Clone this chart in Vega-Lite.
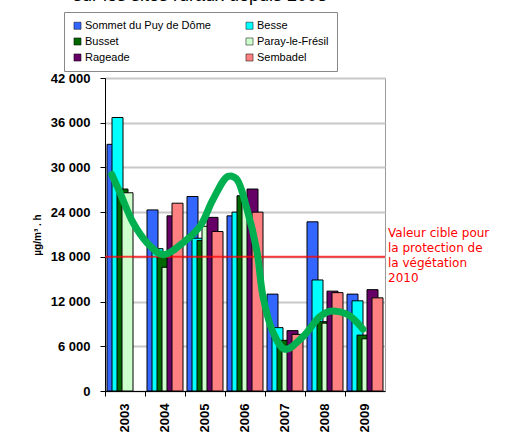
{
  "$schema": "https://vega.github.io/schema/vega-lite/v6.json",
  "autosize": "none",
  "width": 280,
  "height": 313,
  "padding": {"left": 105, "top": 78, "right": 121, "bottom": 43},
  "title": {"text": "sur les sites ruraux depuis 2003", "anchor": "start", "frame": "group", "dx": -32, "fontSize": 18, "font": "Liberation Sans", "fontWeight": "normal", "color": "#000", "offset": 7},
  "config": {
    "font": "Liberation Sans",
    "view": {"stroke": "#9a9a9a", "strokeWidth": 1}
  },
  "datasets": {
    "bars": [
      {"year": "2003", "site": "Sommet du Puy de Dôme", "v": 33100},
      {"year": "2003", "site": "Besse", "v": 36700},
      {"year": "2003", "site": "Busset", "v": 27100},
      {"year": "2003", "site": "Paray-le-Frésil", "v": 26600},
      {"year": "2004", "site": "Sommet du Puy de Dôme", "v": 24300},
      {"year": "2004", "site": "Besse", "v": 19100},
      {"year": "2004", "site": "Busset", "v": 18000},
      {"year": "2004", "site": "Paray-le-Frésil", "v": 16600},
      {"year": "2004", "site": "Rageade", "v": 23500},
      {"year": "2004", "site": "Sembadel", "v": 25200},
      {"year": "2005", "site": "Sommet du Puy de Dôme", "v": 26100},
      {"year": "2005", "site": "Besse", "v": 20500},
      {"year": "2005", "site": "Busset", "v": 20200},
      {"year": "2005", "site": "Paray-le-Frésil", "v": 22100},
      {"year": "2005", "site": "Rageade", "v": 23300},
      {"year": "2005", "site": "Sembadel", "v": 21400},
      {"year": "2006", "site": "Sommet du Puy de Dôme", "v": 23500},
      {"year": "2006", "site": "Besse", "v": 24000},
      {"year": "2006", "site": "Busset", "v": 26200},
      {"year": "2006", "site": "Paray-le-Frésil", "v": 26000},
      {"year": "2006", "site": "Rageade", "v": 27100},
      {"year": "2006", "site": "Sembadel", "v": 24000},
      {"year": "2007", "site": "Sommet du Puy de Dôme", "v": 13000},
      {"year": "2007", "site": "Besse", "v": 8500},
      {"year": "2007", "site": "Busset", "v": 6800},
      {"year": "2007", "site": "Paray-le-Frésil", "v": 5800},
      {"year": "2007", "site": "Rageade", "v": 8100},
      {"year": "2007", "site": "Sembadel", "v": 7600},
      {"year": "2008", "site": "Sommet du Puy de Dôme", "v": 22700},
      {"year": "2008", "site": "Besse", "v": 14900},
      {"year": "2008", "site": "Busset", "v": 9300},
      {"year": "2008", "site": "Paray-le-Frésil", "v": 9100},
      {"year": "2008", "site": "Rageade", "v": 13400},
      {"year": "2008", "site": "Sembadel", "v": 13200},
      {"year": "2009", "site": "Sommet du Puy de Dôme", "v": 13000},
      {"year": "2009", "site": "Besse", "v": 12100},
      {"year": "2009", "site": "Busset", "v": 7500},
      {"year": "2009", "site": "Paray-le-Frésil", "v": 7000},
      {"year": "2009", "site": "Rageade", "v": 13600},
      {"year": "2009", "site": "Sembadel", "v": 12500}
    ],
    "curve": [
      {"t": 0.17, "v": 29050},
      {"t": 0.375, "v": 26600},
      {"t": 0.7, "v": 22600},
      {"t": 1.05, "v": 19900},
      {"t": 1.45, "v": 18300},
      {"t": 1.95, "v": 19900},
      {"t": 2.375, "v": 22100},
      {"t": 2.7, "v": 25700},
      {"t": 3.075, "v": 28800},
      {"t": 3.28, "v": 28500},
      {"t": 3.55, "v": 24400},
      {"t": 3.8, "v": 18700},
      {"t": 3.95, "v": 12700},
      {"t": 4.2, "v": 7900},
      {"t": 4.5, "v": 5600},
      {"t": 4.95, "v": 7300},
      {"t": 5.375, "v": 10000},
      {"t": 5.625, "v": 10700},
      {"t": 6.05, "v": 10300},
      {"t": 6.45, "v": 8300}
    ],
    "target": [
      {"v": 18000, "label": "Valeur cible pour\nla protection de\nla végétation\n2010"}
    ]
  },
  "resolve": {"scale": {"x": "independent"}},
  "layer": [
    {
      "data": {"name": "bars"},
      "mark": {"type": "bar", "stroke": "#000000", "strokeWidth": 1, "width": 11},
      "encoding": {
        "x": {
          "field": "year", "type": "ordinal",
          "scale": {"paddingInner": 0, "paddingOuter": 0},
          "axis": {"title": null, "labelAngle": -90, "labelFontWeight": "bold", "labelFontSize": 13, "labelColor": "#000", "bandPosition": 0, "tickColor": "#000", "tickSize": 5, "domainColor": "#000", "labelPadding": 7, "labelBaseline": "middle"}
        },
        "xOffset": {
          "field": "site", "type": "nominal",
          "sort": ["Sommet du Puy de Dôme", "Besse", "Busset", "Paray-le-Frésil", "Rageade", "Sembadel"],
          "scale": {"domain": ["Sommet du Puy de Dôme", "Besse", "Busset", "Paray-le-Frésil", "Rageade", "Sembadel"], "paddingInner": 0, "paddingOuter": 1}
        },
        "y": {
          "field": "v", "type": "quantitative",
          "scale": {"domain": [0, 42000], "nice": false},
          "axis": {"title": "µg/m³ . h", "titleFontSize": 10, "titleFontWeight": "bold", "titleColor": "#000", "titlePadding": 8, "values": [0, 6000, 12000, 18000, 24000, 30000, 36000, 42000], "labelExpr": "replace(format(datum.value, ','), ',', ' ')", "labelFontWeight": "bold", "labelFontSize": 13, "labelColor": "#000", "labelPadding": 10, "tickColor": "#000", "tickSize": 5, "domainColor": "#000", "gridColor": "#c8c8c8", "gridWidth": 2}
        },
        "color": {
          "field": "site", "type": "nominal",
          "scale": {"domain": ["Sommet du Puy de Dôme", "Besse", "Busset", "Paray-le-Frésil", "Rageade", "Sembadel"], "range": ["#3366ff", "#00ffff", "#006600", "#ccffcc", "#660066", "#ff8080"]},
          "legend": {"title": null, "orient": "none", "direction": "horizontal", "legendX": -41, "legendY": -66, "columns": 2, "columnPadding": 33, "rowPadding": 4, "gridAlign": "all", "symbolType": "square", "symbolSize": 50, "symbolStrokeColor": "#000", "symbolStrokeWidth": 0.5, "labelFontSize": 11, "labelColor": "#000", "labelOffset": 2, "strokeColor": "#888888", "padding": 8, "fillColor": "#ffffff"}
        }
      }
    },
    {
      "data": {"name": "target"},
      "mark": {"type": "rule", "color": "#ff0000", "strokeWidth": 2, "opacity": 0.75},
      "encoding": {"y": {"field": "v", "type": "quantitative"}}
    },
    {
      "data": {"name": "target"},
      "mark": {"type": "text", "color": "#ff0000", "align": "left", "baseline": "middle", "lineBreak": "\n", "fontSize": 12, "font": "DejaVu Sans", "dx": 3, "dy": -24, "lineHeight": 15},
      "encoding": {"y": {"field": "v", "type": "quantitative"}, "x": {"value": "width"}, "text": {"field": "label"}}
    },
    {
      "data": {"name": "curve"},
      "mark": {"type": "line", "color": "#00b050", "strokeWidth": 7, "interpolate": "catmull-rom", "strokeCap": "round"},
      "encoding": {
        "x": {"field": "t", "type": "quantitative", "scale": {"domain": [0, 7], "nice": false}, "axis": null},
        "y": {"field": "v", "type": "quantitative"}
      }
    }
  ]
}
